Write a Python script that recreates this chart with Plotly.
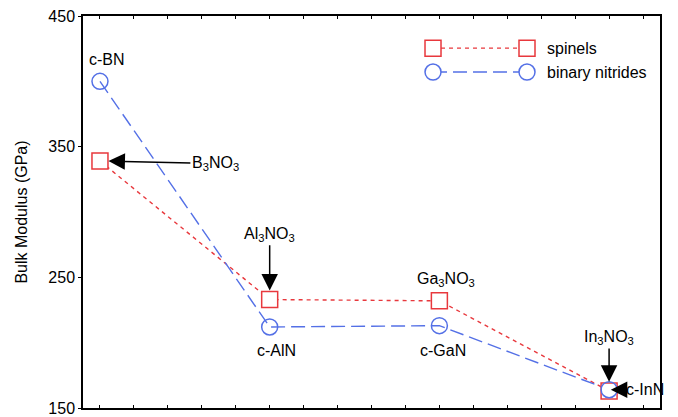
import plotly.graph_objects as go

# Data
positions = [0, 5, 10, 15]
spinel_names = ["B<sub>3</sub>NO<sub>3</sub>", "Al<sub>3</sub>NO<sub>3</sub>", "Ga<sub>3</sub>NO<sub>3</sub>", "In<sub>3</sub>NO<sub>3</sub>"]
nitride_names = ["c-BN", "c-AlN", "c-GaN", "c-InN"]
spinels = [339, 233, 232, 163]
nitrides = [400, 212, 213, 164]
y_ticks = [150, 250, 350, 450]
legend_labels = ["spinels", "binary nitrides"]

RED = "#e8383d"
BLUE = "#5470e6"
FONT = "Liberation Sans, Arial, sans-serif"
fnt = dict(size=16, color="black", family=FONT)

fig = go.Figure()

# lines
fig.add_trace(go.Scatter(x=positions, y=spinels, mode="lines",
                         line=dict(color=RED, width=1.4, dash="4px,4px"), showlegend=False))
fig.add_trace(go.Scatter(x=positions, y=nitrides, mode="lines",
                         line=dict(color=BLUE, width=1.4, dash="14px,6px"), showlegend=False))
# markers
fig.add_trace(go.Scatter(x=positions, y=spinels, mode="markers",
                         marker=dict(symbol="square", size=16, color="white",
                                     line=dict(color=RED, width=1.5)), showlegend=False))
fig.add_trace(go.Scatter(x=positions, y=nitrides, mode="markers",
                         marker=dict(symbol="circle", size=16, color="rgba(255,255,255,0)",
                                     line=dict(color=BLUE, width=1.5)), showlegend=False))

# manual legend on an overlay axis (0..1 over plot area)
leg_y = [0.918, 0.857]
leg_x = [0.6066, 0.7695]
fig.add_trace(go.Scatter(x=leg_x, y=[leg_y[0]] * 2, xaxis="x2", yaxis="y2", mode="lines+markers",
                         line=dict(color=RED, width=1.4, dash="4px,4px"),
                         marker=dict(symbol="square", size=16, color="white", line=dict(color=RED, width=1.5)),
                         showlegend=False))
fig.add_trace(go.Scatter(x=leg_x, y=[leg_y[1]] * 2, xaxis="x2", yaxis="y2", mode="lines+markers",
                         line=dict(color=BLUE, width=1.4, dash="14px,6px"),
                         marker=dict(symbol="circle", size=16, color="white", line=dict(color=BLUE, width=1.5)),
                         showlegend=False))
for lab, yy in zip(legend_labels, leg_y):
    fig.add_annotation(x=0.8007, y=yy, xref="x2", yref="y2", text=lab, showarrow=False,
                       xanchor="left", yanchor="middle", font=fnt)

# nitride labels (no arrows except c-InN)
fig.add_annotation(x=0.2, y=417, text=nitride_names[0], showarrow=False, font=fnt)
fig.add_annotation(x=5.2, y=194, text=nitride_names[1], showarrow=False, font=fnt)
fig.add_annotation(x=10.1, y=194, text=nitride_names[2], showarrow=False, font=fnt)
# Ga3NO3 label (no arrow)
fig.add_annotation(x=10.2, y=248, text=spinel_names[2], showarrow=False, font=fnt)


def arrow_label(text, x, y, ax, ay):
    fig.add_annotation(x=x, y=y, ax=ax, ay=ay, xref="x", yref="y", axref="x", ayref="y",
                       text=text, font=fnt, showarrow=True, arrowhead=2, arrowsize=2.2,
                       arrowwidth=1.5, arrowcolor="black")


arrow_label(spinel_names[0], 0.25, spinels[0], 3.4, 337)
arrow_label(spinel_names[1], positions[1], 240, positions[1], 283)
arrow_label(spinel_names[3], positions[3], 170, positions[3], 204)
arrow_label(nitride_names[3], 15.05, 164, 16.05, 164)

fig.update_layout(
    width=678, height=417,
    margin=dict(l=83, r=18, t=16, b=9),
    paper_bgcolor="white", plot_bgcolor="white",
    font=dict(family=FONT, size=16, color="black"),
    xaxis=dict(range=[-0.5, 16.5], tick0=0, dtick=1, ticks="inside", ticklen=3,
               showticklabels=False, showgrid=False, zeroline=False,
               showline=True, mirror="allticks", linecolor="black", linewidth=1.5,
               tickcolor="black", automargin=False),
    yaxis=dict(range=[150, 450], tickvals=y_ticks, ticks="outside", ticklen=3,
               showgrid=False, zeroline=False, showline=True, mirror=True,
               linecolor="black", linewidth=1.5, tickcolor="black",
               tickfont=fnt, ticklabeloverflow="allow", automargin="left",
               title=dict(text="Bulk Modulus (GPa)", font=fnt, standoff=17)),
    xaxis2=dict(range=[0, 1], overlaying="x", visible=False, fixedrange=True),
    yaxis2=dict(range=[0, 1], overlaying="y", visible=False, fixedrange=True),
    showlegend=False,
)

fig.write_html("out.html", config={"displayModeBar": False},
               post_script="document.body.style.margin='0px';")
